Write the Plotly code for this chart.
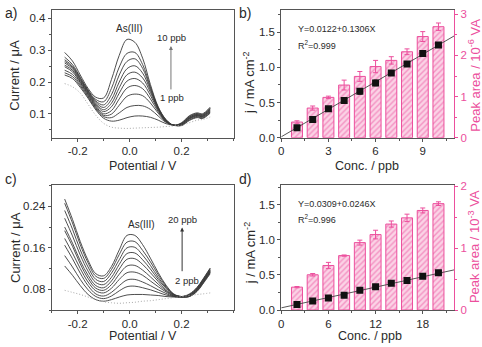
import plotly.graph_objects as go

W, H = 482, 347

# ---------------- data: panel a (1-10 ppb) ----------------
E = [-0.25, -0.22, -0.19, -0.16, -0.13, -0.10, -0.07, -0.04, -0.01, 0.02,
     0.05, 0.08, 0.11, 0.14, 0.17, 0.20, 0.23, 0.26, 0.28, 0.31]

a_10 = [0.293, 0.266, 0.222, 0.180, 0.152, 0.150, 0.208, 0.284, 0.334, 0.325, 0.275, 0.192, 0.122, 0.082, 0.064, 0.072, 0.094, 0.103, 0.100, 0.121]
a_9 = [0.278, 0.255, 0.215, 0.175, 0.145, 0.138, 0.180, 0.247, 0.290, 0.293, 0.255, 0.185, 0.120, 0.081, 0.064, 0.071, 0.092, 0.101, 0.098, 0.118]
a_8 = [0.270, 0.250, 0.212, 0.172, 0.140, 0.128, 0.160, 0.222, 0.265, 0.273, 0.243, 0.180, 0.118, 0.080, 0.064, 0.070, 0.090, 0.099, 0.096, 0.116]
a_7 = [0.265, 0.246, 0.208, 0.170, 0.136, 0.120, 0.145, 0.200, 0.242, 0.251, 0.228, 0.174, 0.116, 0.079, 0.064, 0.069, 0.089, 0.098, 0.095, 0.114]
a_6 = [0.260, 0.242, 0.205, 0.167, 0.132, 0.113, 0.133, 0.182, 0.223, 0.231, 0.213, 0.167, 0.114, 0.078, 0.064, 0.068, 0.087, 0.096, 0.093, 0.112]
a_5 = [0.253, 0.237, 0.201, 0.164, 0.128, 0.107, 0.122, 0.165, 0.203, 0.211, 0.197, 0.158, 0.111, 0.077, 0.064, 0.067, 0.086, 0.095, 0.092, 0.110]
a_4 = [0.248, 0.232, 0.198, 0.161, 0.124, 0.100, 0.110, 0.147, 0.181, 0.189, 0.179, 0.147, 0.107, 0.076, 0.064, 0.066, 0.085, 0.094, 0.091, 0.108]
a_3 = [0.237, 0.224, 0.193, 0.157, 0.120, 0.095, 0.099, 0.127, 0.155, 0.162, 0.157, 0.134, 0.102, 0.075, 0.064, 0.065, 0.083, 0.092, 0.089, 0.106]
a_2 = [0.229, 0.217, 0.188, 0.153, 0.116, 0.091, 0.088, 0.103, 0.120, 0.126, 0.125, 0.114, 0.093, 0.073, 0.064, 0.064, 0.081, 0.090, 0.087, 0.104]
a_1 = [0.222, 0.211, 0.183, 0.149, 0.112, 0.086, 0.077, 0.080, 0.088, 0.093, 0.093, 0.089, 0.080, 0.069, 0.064, 0.063, 0.079, 0.088, 0.085, 0.102]
a_blank = [0.195, 0.185, 0.165, 0.130, 0.095, 0.070, 0.058, 0.055, 0.054, 0.055, 0.056, 0.057, 0.058, 0.060, 0.062, 0.064, 0.072, 0.080, 0.082, 0.090]

# ---------------- data: panel c (2-20 ppb) ----------------
c_20 = [0.254, 0.215, 0.172, 0.136, 0.110, 0.106, 0.124, 0.156, 0.184, 0.184, 0.166, 0.140, 0.112, 0.088, 0.071, 0.066, 0.071, 0.084, 0.098, 0.121]
c_18 = [0.246, 0.208, 0.166, 0.131, 0.105, 0.101, 0.118, 0.147, 0.171, 0.172, 0.155, 0.133, 0.108, 0.086, 0.070, 0.066, 0.070, 0.083, 0.097, 0.120]
c_16 = [0.232, 0.196, 0.156, 0.123, 0.099, 0.095, 0.111, 0.137, 0.160, 0.161, 0.146, 0.126, 0.103, 0.084, 0.070, 0.066, 0.069, 0.082, 0.096, 0.119]
c_14 = [0.217, 0.183, 0.146, 0.115, 0.093, 0.089, 0.103, 0.128, 0.149, 0.150, 0.137, 0.119, 0.099, 0.082, 0.069, 0.066, 0.069, 0.081, 0.095, 0.117]
c_12 = [0.200, 0.169, 0.135, 0.107, 0.087, 0.083, 0.096, 0.119, 0.138, 0.139, 0.128, 0.112, 0.095, 0.079, 0.069, 0.066, 0.068, 0.080, 0.094, 0.116]
c_10 = [0.193, 0.163, 0.129, 0.101, 0.082, 0.078, 0.089, 0.109, 0.125, 0.126, 0.117, 0.104, 0.090, 0.077, 0.068, 0.066, 0.068, 0.080, 0.093, 0.115]
c_8 = [0.178, 0.150, 0.120, 0.094, 0.077, 0.073, 0.082, 0.099, 0.112, 0.113, 0.107, 0.096, 0.085, 0.075, 0.067, 0.065, 0.067, 0.079, 0.092, 0.114]
c_6 = [0.165, 0.139, 0.111, 0.087, 0.071, 0.067, 0.074, 0.087, 0.098, 0.099, 0.094, 0.087, 0.079, 0.072, 0.066, 0.065, 0.067, 0.078, 0.091, 0.113]
c_4 = [0.145, 0.123, 0.099, 0.079, 0.066, 0.062, 0.067, 0.077, 0.085, 0.086, 0.083, 0.079, 0.074, 0.069, 0.066, 0.065, 0.066, 0.077, 0.090, 0.112]
c_2 = [0.125, 0.107, 0.087, 0.070, 0.060, 0.057, 0.060, 0.065, 0.069, 0.070, 0.070, 0.069, 0.068, 0.066, 0.065, 0.065, 0.066, 0.076, 0.089, 0.110]
c_blank = [0.078, 0.074, 0.070, 0.065, 0.060, 0.056, 0.054, 0.053, 0.054, 0.055, 0.057, 0.058, 0.060, 0.062, 0.064, 0.066, 0.068, 0.070, 0.071, 0.073]

# ---------------- data: panel b ----------------
conc_b = [1, 2, 3, 4, 5, 6, 7, 8, 9, 10]
j_b = [0.14, 0.26, 0.41, 0.53, 0.66, 0.78, 0.92, 1.05, 1.20, 1.32]
j_b_err = [0.02, 0.02, 0.02, 0.03, 0.04, 0.04, 0.03, 0.02, 0.03, 0.03]
area_b = [0.38, 0.72, 0.98, 1.28, 1.49, 1.73, 1.88, 2.09, 2.46, 2.70]
area_b_err = [0.03, 0.05, 0.03, 0.12, 0.12, 0.15, 0.09, 0.07, 0.12, 0.09]
fit_b = [0.0122, 0.1306]

# ---------------- data: panel d ----------------
conc_d = [2, 4, 6, 8, 10, 12, 14, 16, 18, 20]
j_d = [0.08, 0.13, 0.17, 0.21, 0.28, 0.33, 0.38, 0.42, 0.48, 0.53]
j_d_err = [0.01, 0.01, 0.01, 0.01, 0.01, 0.01, 0.01, 0.01, 0.01, 0.01]
area_d = [0.37, 0.57, 0.72, 0.88, 1.09, 1.22, 1.39, 1.49, 1.61, 1.72]
area_d_err = [0.01, 0.02, 0.05, 0.01, 0.04, 0.07, 0.05, 0.06, 0.04, 0.03]
fit_d = [0.0309, 0.0246]

FONT = "Arial, Liberation Sans, sans-serif"
PINK = "#ec4f9d"
PINK_LIGHT = "#fbd3e6"
AX = "#555555"
TXT = "#2a2a2a"
CURVE = "#3a3a3a"


def px(x):
    return x / W


def py(y):
    return 1 - y / H


fig = go.Figure()

# panel a
for cur in [a_1, a_2, a_3, a_4, a_5, a_6, a_7, a_8, a_9, a_10]:
    fig.add_trace(go.Scatter(x=E, y=cur, mode="lines", line=dict(color=CURVE, width=0.9, shape="spline", smoothing=1.0),
                             xaxis="x", yaxis="y", hoverinfo="skip"))
fig.add_trace(go.Scatter(x=E, y=a_blank, mode="lines",
                         line=dict(color="#a8a8a8", width=1, dash="1px,2px", shape="spline"),
                         xaxis="x", yaxis="y"))

# panel c
for cur in [c_2, c_4, c_6, c_8, c_10, c_12, c_14, c_16, c_18, c_20]:
    fig.add_trace(go.Scatter(x=E, y=cur, mode="lines", line=dict(color=CURVE, width=0.9, shape="spline", smoothing=1.0),
                             xaxis="x3", yaxis="y3"))
fig.add_trace(go.Scatter(x=E, y=c_blank, mode="lines",
                         line=dict(color="#a8a8a8", width=1, dash="1px,2px", shape="spline"),
                         xaxis="x3", yaxis="y3"))


def bar_panel(conc, area, area_err, j, j_err, fit, xa, ya_bar, ya_j, xmax, width):
    fig.add_trace(go.Bar(x=conc, y=area, width=width, xaxis=xa, yaxis=ya_bar,
                         marker=dict(color=PINK_LIGHT, line=dict(color=PINK, width=1),
                                     pattern=dict(shape="/", fgcolor=PINK, bgcolor=PINK_LIGHT, size=4, solidity=0.35)),
                         error_y=dict(type="data", array=area_err, color=PINK, thickness=1, width=2.5)))
    xs = [0, xmax]
    ys = [fit[0] + fit[1] * v for v in xs]
    fig.add_trace(go.Scatter(x=xs, y=ys, mode="lines", line=dict(color="#444444", width=0.9),
                             xaxis=xa, yaxis=ya_j))
    fig.add_trace(go.Scatter(x=conc, y=j, mode="markers", xaxis=xa, yaxis=ya_j,
                             marker=dict(symbol="square", size=7, color="#111111"),
                             error_y=dict(type="data", array=j_err, color="#111111", thickness=1, width=2)))


bar_panel(conc_b, area_b, area_b_err, j_b, j_b_err, fit_b, "x2", "y2", "y5", 11, 0.7)
bar_panel(conc_d, area_d, area_d_err, j_d, j_d_err, fit_d, "x4", "y4", "y6", 22, 1.4)

# domains
dom_a_x = [px(49), px(232)]
dom_b_x = [px(280), px(454)]
dom_top_y = [py(137), py(5)]
dom_bot_y = [py(315), py(186)]

TICKSIZE = 11.5
tickfont = dict(family=FONT, size=TICKSIZE, color=TXT)


def xax(domain, anchor, rng, tv, tt, minor_dtick):
    return dict(domain=domain, anchor=anchor, range=rng, tickmode="array", tickvals=tv, ticktext=tt,
                showline=True, linecolor=AX, linewidth=1, mirror=True, ticks="outside", ticklen=3,
                tickcolor=AX, tickfont=tickfont, showgrid=False, zeroline=False,
                minor=dict(dtick=minor_dtick, tick0=0, ticks="outside", ticklen=2, tickcolor=AX))


def yax(domain, anchor, rng, tv, tt, minor_dtick, side="left", color=AX, mirror=True, overlaying=None, fcolor=TXT):
    d = dict(domain=domain, anchor=anchor, range=rng, tickmode="array", tickvals=tv, ticktext=tt, side=side,
             showline=True, linecolor=color, linewidth=1, mirror=mirror, ticks="outside", ticklen=3,
             tickcolor=color, tickfont=dict(family=FONT, size=TICKSIZE, color=fcolor), showgrid=False, zeroline=False,
             minor=dict(dtick=minor_dtick, tick0=0, ticks="outside", ticklen=2, tickcolor=color))
    if overlaying:
        d["overlaying"] = overlaying
    return d


xticks_pot = [-0.2, 0.0, 0.2]
xticks_pot_txt = ["-0.2", "0.0", "0.2"]

fig.update_layout(
    width=W, height=H, margin=dict(l=0, r=0, t=0, b=0), autosize=False,
    paper_bgcolor="white", plot_bgcolor="white", showlegend=False, barmode="overlay",
    xaxis=xax(dom_a_x, "y", [-0.3, 0.4], xticks_pot, xticks_pot_txt, 0.1),
    yaxis=yax(dom_top_y, "x", [0.025, 0.427], [0.1, 0.2, 0.3, 0.4], ["0.1", "0.2", "0.3", "0.4"], 0.05),
    xaxis3=xax(dom_a_x, "y3", [-0.3, 0.4], xticks_pot, xticks_pot_txt, 0.1),
    yaxis3=yax(dom_bot_y, "x3", [0.04, 0.281], [0.08, 0.16, 0.24], ["0.08", "0.16", "0.24"], 0.04),
    xaxis2=xax(dom_b_x, "y2", [0, 11], [0, 3, 6, 9], ["0", "3", "6", "9"], 1.5),
    yaxis2=yax(dom_top_y, "x2", [0, 3.11], [0, 1, 2, 3], ["0", "1", "2", "3"], 0.5, side="right",
               color=PINK, mirror=False, fcolor=PINK),
    yaxis5=yax(dom_top_y, "x2", [0, 1.82], [0, 0.5, 1.0, 1.5], ["0.0", "0.5", "1.0", "1.5"], 0.25,
               mirror=False, overlaying="y2"),
    xaxis4=xax(dom_b_x, "y4", [0, 22], [0, 6, 12, 18], ["0", "6", "12", "18"], 3),
    yaxis4=yax(dom_bot_y, "x4", [0, 2.02], [0, 1, 2], ["0", "1", "2"], 0.5, side="right",
               color=PINK, mirror=False, fcolor=PINK),
    yaxis6=yax(dom_bot_y, "x4", [0, 1.78], [0, 0.5, 1.0, 1.5], ["0.0", "0.5", "1.0", "1.5"], 0.25,
               mirror=False, overlaying="y4"),
)

ann = []


def paper_text(x, y, text, size=12.5, color=TXT, angle=0):
    ann.append(dict(x=px(x), y=py(y), xref="paper", yref="paper", text=text, showarrow=False,
                    font=dict(family=FONT, size=size, color=color), textangle=angle,
                    xanchor="center", yanchor="middle"))


# panel letters
paper_text(8, 8, "a)", 14)
paper_text(244, 8, "b)", 14)
paper_text(8, 180, "c)", 14)
paper_text(244, 180, "d)", 14)

# axis titles
paper_text(12, 72, "Current / μA", 13, angle=-90)
paper_text(12, 250, "Current / μA", 13, angle=-90)
paper_text(141, 166, "Potential / V", 12.5)
paper_text(141, 341.5, "Potential / V", 12.5)
paper_text(366, 166, "Conc. / ppb", 12.5)
paper_text(369, 341.5, "Conc. / ppb", 12.5)
paper_text(248, 80, "j / mA cm<sup>-2</sup>", 13, angle=-90)
paper_text(248, 256, "j / mA cm<sup>-2</sup>", 13, angle=-90)
paper_text(474, 73, "Peak area / 10<sup>-6</sup> VA", 13, color=PINK, angle=-90)
paper_text(474, 250, "Peak area / 10<sup>-3</sup> VA", 13, color=PINK, angle=-90)

# equations
for (yy, t) in [(25, "Y=0.0122+0.1306X"), (41, "R<sup>2</sup>=0.999"),
                (205, "Y=0.0309+0.0246X"), (221, "R<sup>2</sup>=0.996")]:
    ann.append(dict(x=px(295), y=py(yy), xref="paper", yref="paper", text=t, showarrow=False,
                    font=dict(family=FONT, size=9, color=TXT), xanchor="left", yanchor="middle"))

# panel a annotations
ann.append(dict(x=0.0, y=0.369, xref="x", yref="y", text="As(III)", showarrow=False,
                font=dict(family=FONT, size=10, color=TXT)))
ann.append(dict(x=0.16, y=0.340, xref="x", yref="y", text="10 ppb", showarrow=False,
                font=dict(family=FONT, size=9.5, color=TXT)))
ann.append(dict(x=0.163, y=0.152, xref="x", yref="y", text="1 ppb", showarrow=False,
                font=dict(family=FONT, size=9.5, color=TXT)))
ann.append(dict(x=0.159, y=0.313, ax=0.159, ay=0.172, xref="x", yref="y", axref="x", ayref="y", text="",
                showarrow=True, arrowhead=2, arrowsize=0.8, arrowwidth=1, arrowcolor="#777777"))

# panel c annotations
ann.append(dict(x=0.047, y=0.205, xref="x3", yref="y3", text="As(III)", showarrow=False,
                font=dict(family=FONT, size=10, color=TXT)))
ann.append(dict(x=0.205, y=0.214, xref="x3", yref="y3", text="20 ppb", showarrow=False,
                font=dict(family=FONT, size=9.5, color=TXT)))
ann.append(dict(x=0.221, y=0.097, xref="x3", yref="y3", text="2 ppb", showarrow=False,
                font=dict(family=FONT, size=9.5, color=TXT)))
ann.append(dict(x=0.202, y=0.199, ax=0.202, ay=0.112, xref="x3", yref="y3", axref="x3", ayref="y3", text="",
                showarrow=True, arrowhead=2, arrowsize=0.8, arrowwidth=1, arrowcolor="#333333"))

fig.update_layout(annotations=ann)
fig.write_html("out.html")
